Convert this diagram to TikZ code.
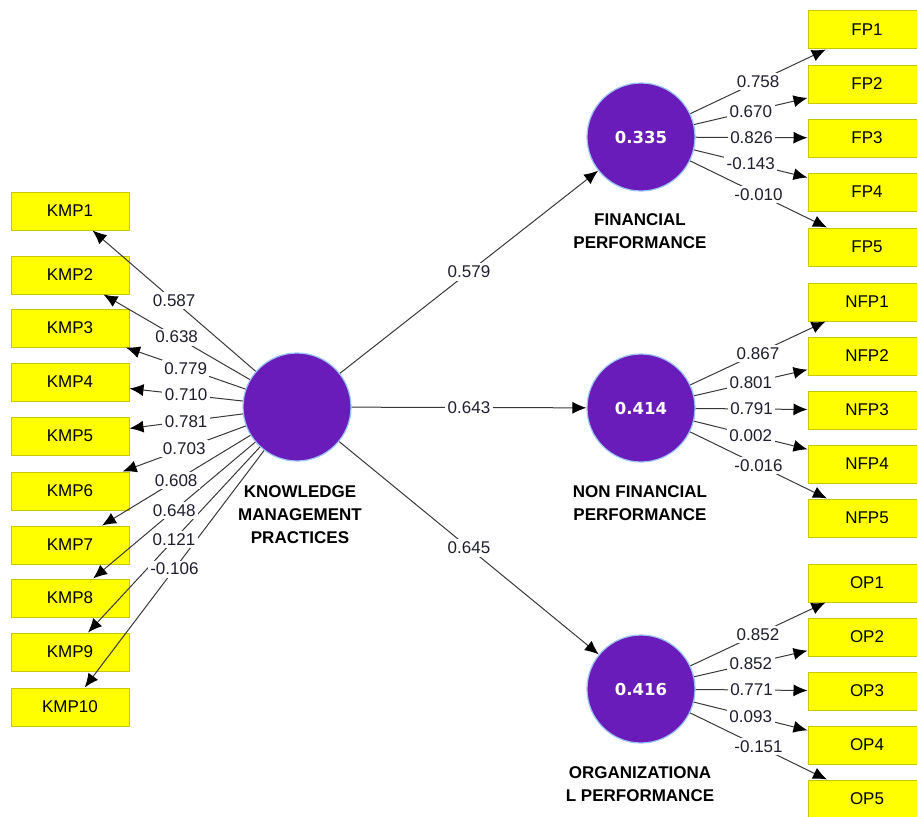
\documentclass[tikz,border=0pt]{standalone}
\usepackage{fontspec}
\setmainfont{Liberation Sans}
\newfontfamily\valfont{DejaVu Sans}
\usetikzlibrary{arrows.meta}
\definecolor{latpurple}{HTML}{6A1CBA}
\definecolor{latrim}{HTML}{9CC4F4}
\definecolor{boxyellow}{HTML}{FFFF00}
\definecolor{boxrim}{HTML}{C8C800}
\definecolor{edgegray}{HTML}{383838}
\definecolor{txt}{HTML}{1E1E2E}
\begin{document}
\begin{tikzpicture}[x=1pt,y=-1pt,
 ind/.style={draw=boxrim, fill=boxyellow, line width=1pt, minimum width=118pt, minimum height=38pt, inner sep=0pt, font=\fontsize{17}{20}\selectfont, text=black},
 lat/.style={circle, fill=latpurple, draw=latrim, line width=1.2pt, minimum size=108pt, inner sep=0pt, text=white, font=\valfont\bfseries\fontsize{16.5}{19}\selectfont},
 latname/.style={align=center, font=\bfseries\fontsize{17}{23}\selectfont, text=black},
 wt/.style={fill=white, inner sep=2.5pt, font=\fontsize{17}{20}\selectfont, text=txt},
 link/.style={draw=edgegray, line width=1pt, -{Latex[length=14pt,width=12pt,black]}},
]
\useasboundingbox (0,0) rectangle (917,816);
\clip (0,0) rectangle (917,816);

% latent variables
\node[lat] (kmp) at (297,407) {};
\node[lat] (fp) at (641,137) {0.335};
\node[lat] (nfp) at (641,408) {0.414};
\node[lat] (op) at (641,689) {0.416};

% indicators
\foreach \i/\y in {1/211,2/275,3/328,4/382,5/436,6/491,7/545,8/598,9/652,10/707}
  \node[ind] (kmp\i) at (70,\y) {KMP\i};
\foreach \i/\y in {1/30,2/84,3/138,4/192,5/247}
  \node[ind] (fp\i) at (867,\y) {FP\i};
\foreach \i/\y in {1/302,2/356,3/410,4/464,5/518}
  \node[ind] (nfp\i) at (867,\y) {NFP\i};
\foreach \i/\y in {1/583,2/637,3/691,4/745,5/799}
  \node[ind] (op\i) at (867,\y) {OP\i};

% connectors
\foreach \i in {1,...,10} \draw[link] (kmp) -- (kmp\i);
\foreach \i in {1,...,5} {
  \draw[link] (fp) -- (fp\i);
  \draw[link] (nfp) -- (nfp\i);
  \draw[link] (op) -- (op\i);
}
\draw[link] (kmp) -- (fp);
\draw[link] (kmp) -- (nfp);
\draw[link] (kmp) -- (op);

% weights
\foreach \i/\w in {1/0.587,2/0.638,3/0.779,4/0.710,5/0.781,6/0.703,7/0.608,8/0.648,9/0.121,10/-0.106}
  \path (kmp) -- (kmp\i) node[wt,midway] {\w};
\foreach \i/\w in {1/0.758,2/0.670,3/0.826,4/-0.143,5/-0.010}
  \path (fp) -- (fp\i) node[wt,midway] {\w};
\foreach \i/\w in {1/0.867,2/0.801,3/0.791,4/0.002,5/-0.016}
  \path (nfp) -- (nfp\i) node[wt,midway] {\w};
\foreach \i/\w in {1/0.852,2/0.852,3/0.771,4/0.093,5/-0.151}
  \path (op) -- (op\i) node[wt,midway] {\w};
\path (kmp) -- (fp) node[wt,midway] {0.579};
\path (kmp) -- (nfp) node[wt,midway] {0.643};
\path (kmp) -- (op) node[wt,midway] {0.645};

% latent names
\node[latname] (kmpname) at (300,515) {KNOWLEDGE\\MANAGEMENT\\PRACTICES};
\node[latname] (fpname) at (640,231) {FINANCIAL\\PERFORMANCE};
\node[latname] (nfpname) at (640,503) {NON FINANCIAL\\PERFORMANCE};
\node[latname] (opname) at (640,784) {ORGANIZATIONA\\L PERFORMANCE};
\end{tikzpicture}
\end{document}
